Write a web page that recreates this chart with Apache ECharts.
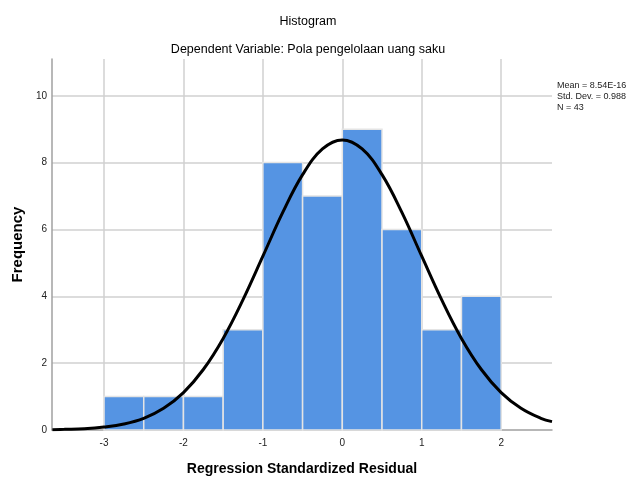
<!DOCTYPE html>
<html>
<head>
<meta charset="utf-8">
<script src="https://cdn.jsdelivr.net/npm/echarts@6/dist/echarts.min.js"></script>
<style>html,body{margin:0;padding:0;background:#fff}#c{width:632px;height:482px}</style>
</head>
<body>
<div id="c"></div>
<script>
// Histogram bins (lower edge, upper edge) and frequencies
var binStarts = [-3, -2.5, -2, -1.5, -1, -0.5, 0, 0.5, 1, 1.5];
var binEnds   = [-2.5, -2, -1.5, -1, -0.5, 0, 0.5, 1, 1.5, 2];
var counts    = [1, 1, 1, 3, 8, 7, 9, 6, 3, 4];

// Normal curve points
var curveX = [-3.65, -3.5, -3.25, -3, -2.75, -2.5, -2.25, -2, -1.75, -1.5, -1.25, -1, -0.75, -0.5, -0.25, 0, 0.25, 0.5, 0.75, 1, 1.25, 1.5, 1.75, 2, 2.25, 2.5, 2.64];
var curveY = [0.01, 0.02, 0.04, 0.09, 0.18, 0.35, 0.65, 1.12, 1.81, 2.74, 3.90, 5.20, 6.51, 7.64, 8.41, 8.68, 8.41, 7.64, 6.51, 5.20, 3.90, 2.74, 1.81, 1.12, 0.65, 0.35, 0.25];

var statsLines = ["Mean = 8.54E-16", "Std. Dev. = 0.988", "N = 43"];
var titleText = "Histogram";
var subtitleText = "Dependent Variable: Pola pengelolaan uang saku";
var xName = "Regression Standardized Residual";
var yName = "Frequency";

var FONT = "Liberation Sans, Arial, sans-serif";
var histData = binStarts.map(function (s, i) { return [s, binEnds[i], counts[i]]; });
var lineData = curveX.map(function (x, i) { return [x, curveY[i]]; });

var chart = echarts.init(document.getElementById('c'));
chart.setOption({
  animation: false,
  backgroundColor: '#fff',
  title: [
    { text: titleText, left: 303, top: 10, textAlign: 'center',
      textStyle: { fontFamily: FONT, fontSize: 12.5, fontWeight: 'normal', color: '#000' } },
    { text: subtitleText, left: 303, top: 38, textAlign: 'center',
      textStyle: { fontFamily: FONT, fontSize: 12.5, fontWeight: 'normal', color: '#000' } }
  ],
  graphic: [{
    type: 'text', left: 557, top: 80,
    style: { text: statsLines.join('\n'), fontFamily: FONT, fontSize: 9, lineHeight: 11, fill: '#222' }
  }],
  grid: { left: 52, right: 80, top: 59, bottom: 52, containLabel: false },
  xAxis: {
    type: 'value', min: -3.655, max: 2.64,
    name: xName, nameLocation: 'middle', nameGap: 32,
    nameTextStyle: { fontFamily: FONT, fontSize: 14, fontWeight: 'bold', color: '#000' },
    axisLine: { show: true, onZero: false, lineStyle: { color: '#a0a0a0', width: 1.5 } },
    axisTick: { show: false },
    axisLabel: { showMinLabel: false, showMaxLabel: false, fontFamily: FONT, fontSize: 10, color: '#222', margin: 8 },
    splitLine: { show: true, showMinLine: false, showMaxLine: false, lineStyle: { color: '#d0d0d0', width: 1.5 } }
  },
  yAxis: {
    type: 'value', min: 0, max: 11.1, interval: 2,
    name: yName, nameLocation: 'middle', nameGap: 25, nameRotate: 90,
    nameTextStyle: { fontFamily: FONT, fontSize: 15, fontWeight: 'bold', color: '#000' },
    axisLine: { show: true, onZero: false, lineStyle: { color: '#a0a0a0', width: 1.5 } },
    axisTick: { show: false },
    axisLabel: { showMaxLabel: false, fontFamily: FONT, fontSize: 10, color: '#222', margin: 5 },
    splitLine: { show: true, showMinLine: false, showMaxLine: false, lineStyle: { color: '#d0d0d0', width: 1.5 } }
  },
  series: [
    {
      type: 'custom',
      data: histData,
      encode: { x: [0, 1], y: 2 },
      renderItem: function (params, api) {
        var p0 = api.coord([api.value(0), 0]);
        var p1 = api.coord([api.value(1), api.value(2)]);
        return {
          type: 'rect',
          shape: { x: p0[0], y: p1[1], width: p1[0] - p0[0], height: p0[1] - p1[1] },
          style: { fill: '#5594e3', stroke: '#e4e4e4', lineWidth: 1.5 }
        };
      },
      z: 2
    },
    {
      type: 'line',
      data: lineData,
      smooth: 0.4,
      showSymbol: false,
      lineStyle: { color: '#000', width: 3 },
      z: 3
    }
  ]
});
</script>
</body>
</html>
